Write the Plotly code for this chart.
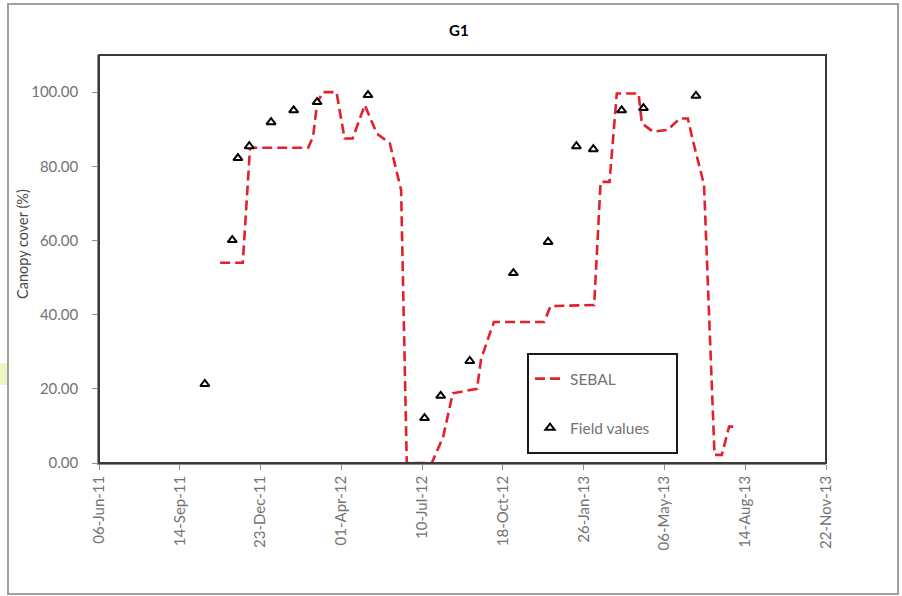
import datetime as dt
import plotly.graph_objects as go

# SEBAL canopy cover estimates (dashed line)
sebal_dates = [
    "2011-11-03", "2011-12-01", "2011-12-10", "2012-02-20", "2012-02-26",
    "2012-03-02", "2012-03-09", "2012-03-26", "2012-04-05", "2012-04-15",
    "2012-04-30", "2012-05-15", "2012-05-31", "2012-06-14", "2012-06-21",
    "2012-07-22", "2012-08-05", "2012-08-17", "2012-09-16", "2012-09-21",
    "2012-10-02", "2012-10-07", "2012-12-08", "2012-12-16", "2013-02-08",
    "2013-02-16", "2013-02-27", "2013-03-08", "2013-04-04", "2013-04-08",
    "2013-04-22", "2013-05-10", "2013-05-25", "2013-06-04", "2013-06-09",
    "2013-06-24", "2013-07-07", "2013-07-16", "2013-07-25", "2013-07-31",
]
sebal_values = [
    54.0, 54.0, 85.0, 85.0, 88.0,
    97.0, 100.0, 100.0, 87.5, 87.5,
    96.5, 88.8, 86.2, 73.6, 0.0,
    0.0, 7.0, 18.8, 20.0, 28.0,
    35.0, 38.0, 38.0, 42.3, 42.6,
    75.8, 75.8, 99.6, 99.6, 91.6,
    89.3, 89.8, 92.9, 92.9, 88.0,
    75.0, 2.2, 2.2, 9.8, 9.8,
]

# Field measurements of canopy cover (triangles)
field_dates = [
    "2011-10-15", "2011-11-18", "2011-11-25", "2011-12-09", "2012-01-05",
    "2012-02-02", "2012-03-02", "2012-05-04", "2012-07-13", "2012-08-02",
    "2012-09-07", "2012-10-31", "2012-12-13", "2013-01-17", "2013-02-07",
    "2013-03-14", "2013-04-10", "2013-06-14",
]
field_values = [
    21.3, 60.1, 82.2, 85.4, 91.9,
    95.1, 97.3, 99.2, 12.1, 18.1,
    27.5, 51.2, 59.6, 85.4, 84.6,
    95.1, 95.7, 99.0,
]

# Date axis: 100-day major unit from 06-Jun-11 to 22-Nov-13
x_start = dt.date(2011, 6, 6)
x_ticks = [x_start + dt.timedelta(days=100 * i) for i in range(10)]
x_ticktext = [d.strftime("%d-%b-%y") for d in x_ticks]

y_ticks = [0, 20, 40, 60, 80, 100]
y_ticktext = [f"{v:.2f}" for v in y_ticks]

FONT = "Lato, 'Open Sans', sans-serif"
GREY = "#737373"

fig = go.Figure()
fig.add_trace(go.Scatter(
    x=sebal_dates, y=sebal_values, mode="lines", name="SEBAL",
    line=dict(color="#e3202c", width=2.6, dash="10px,5px"),
    legendgroup="a",
))
fig.add_trace(go.Scatter(
    x=field_dates, y=field_values, mode="markers", name="Field values",
    marker=dict(symbol="triangle-up", size=8, color="white",
                line=dict(color="black", width=2)),
    legendgroup="b",
))

W, H = 902, 596
L, R, T, B = 99, 826, 55, 463


def px(x):
    return (x - L) / (R - L)


def py(y):
    return (B - y) / (B - T)


shapes = [
    # outer chart border
    dict(type="rect", xref="paper", yref="paper",
         x0=px(8), x1=px(898), y0=py(594), y1=py(4),
         line=dict(color="#a0a0a0", width=2), layer="below"),
    # small tinted patch at the left edge
    dict(type="rect", xref="paper", yref="paper",
         x0=px(0), x1=px(7), y0=py(385), y1=py(363),
         line=dict(width=0), fillcolor="#eef6c6", layer="below"),
    # plot-area frame
    dict(type="rect", xref="paper", yref="paper",
         x0=0, x1=1, y0=0, y1=1,
         line=dict(color="#3a3a3a", width=2)),
    # legend frame
    dict(type="rect", xref="paper", yref="paper",
         x0=px(528), x1=px(677), y0=py(453), y1=py(354),
         line=dict(color="#1a1a1a", width=2), fillcolor="white", layer="below"),
]

fig.update_layout(
    width=W, height=H,
    margin=dict(l=L, r=W - R, t=T, b=H - B, pad=0),
    paper_bgcolor="white", plot_bgcolor="white",
    font=dict(family=FONT, color=GREY, size=12),
    showlegend=True,
    legend=dict(
        x=px(530), y=py(362), xanchor="left", yanchor="top",
        bgcolor="rgba(0,0,0,0)", borderwidth=0,
        font=dict(family=FONT, size=15.5, color=GREY),
        tracegroupgap=26, traceorder="grouped",
    ),
    shapes=shapes,
    annotations=[
        dict(text="<b>G1</b>", xref="paper", yref="paper",
             x=px(459), y=py(30), xanchor="center", yanchor="middle",
             showarrow=False, font=dict(family=FONT, size=15, color="black")),
        dict(text="Canopy cover (%)", xref="paper", yref="paper",
             x=px(22), y=py(244), xanchor="center", yanchor="middle",
             textangle=-90, showarrow=False,
             font=dict(family=FONT, size=14.5, color="#4a4a4a")),
    ],
    xaxis=dict(
        type="date",
        range=[x_ticks[0], x_ticks[-1]],
        tickmode="array", tickvals=x_ticks, ticktext=x_ticktext,
        tickangle=-90, ticks="outside", ticklen=5, tickcolor="#8c8c8c",
        tickfont=dict(family=FONT, size=15, color=GREY),
        showline=True, linecolor="#8c8c8c", linewidth=1.5,
        showgrid=False, zeroline=False,
    ),
    yaxis=dict(
        range=[0, 110],
        tickmode="array", tickvals=y_ticks, ticktext=y_ticktext,
        ticks="outside", ticklen=5, tickcolor="#8c8c8c",
        ticklabelstandoff=11,
        tickfont=dict(family=FONT, size=15, color=GREY),
        showline=True, linecolor="#8c8c8c", linewidth=1.5,
        showgrid=False, zeroline=False,
    ),
)

fig.write_html("out.html")
